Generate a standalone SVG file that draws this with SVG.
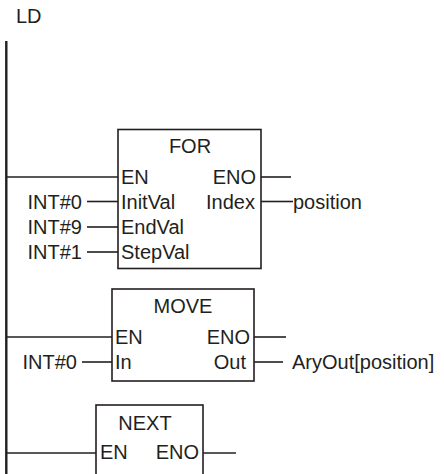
<svg xmlns="http://www.w3.org/2000/svg" width="444" height="474" viewBox="0 0 444 474">
<style>
text{font-family:"Liberation Sans",Arial,sans-serif;font-size:20px;fill:#231f20}
.box{fill:#fff;stroke:#231f20;stroke-width:1.6}
.w{stroke:#231f20;stroke-width:1.6;fill:none}
.rail{stroke:#231f20;stroke-width:2.4}
.m{text-anchor:middle}
.e{text-anchor:end}
</style>
<rect width="444" height="474" fill="#fff"/>
<text x="16" y="23">LD</text>
<line class="rail" x1="6.3" y1="41" x2="6.3" y2="474"/>
<g id="connectors">
<line class="w" x1="7" y1="177" x2="118" y2="177"/>
<line class="w" x1="87" y1="201.5" x2="118" y2="201.5"/>
<line class="w" x1="87" y1="227" x2="118" y2="227"/>
<line class="w" x1="87" y1="252" x2="118" y2="252"/>
<line class="w" x1="261" y1="177" x2="291" y2="177"/>
<line class="w" x1="261" y1="201.5" x2="293" y2="201.5"/>
<line class="w" x1="7" y1="337" x2="112" y2="337"/>
<line class="w" x1="82" y1="362" x2="112" y2="362"/>
<line class="w" x1="254" y1="337" x2="286" y2="337"/>
<line class="w" x1="254" y1="362" x2="283" y2="362"/>
<line class="w" x1="7" y1="453" x2="96" y2="453"/>
<line class="w" x1="203" y1="453" x2="236" y2="453"/>
</g>
<g id="for">
<rect class="box" x="118" y="129.5" width="143" height="139"/>
<text class="m" x="190" y="153">FOR</text>
<text x="121" y="183.5">EN</text>
<text class="e" x="256" y="183.5">ENO</text>
<text x="121" y="208.5">InitVal</text>
<text class="e" x="255" y="208.5">Index</text>
<text x="121" y="234">EndVal</text>
<text x="121" y="258.5">StepVal</text>
</g>
<g id="for-inputs">
<text class="e" x="82" y="208.5">INT#0</text>
<text class="e" x="82" y="234">INT#9</text>
<text class="e" x="82" y="258.5">INT#1</text>
<text x="293" y="208.5">position</text>
</g>
<g id="move">
<rect class="box" x="112" y="289" width="142" height="92"/>
<text class="m" x="183" y="313">MOVE</text>
<text x="115" y="344">EN</text>
<text class="e" x="250" y="344">ENO</text>
<text x="115" y="369">In</text>
<text class="e" x="246" y="369">Out</text>
</g>
<g id="move-io">
<text class="e" x="77" y="369">INT#0</text>
<text x="292" y="369">AryOut[position]</text>
</g>
<g id="next">
<rect class="box" x="96" y="405" width="107" height="75"/>
<text class="m" x="145" y="430">NEXT</text>
<text x="100" y="459">EN</text>
<text class="e" x="199" y="459">ENO</text>
</g>
</svg>
